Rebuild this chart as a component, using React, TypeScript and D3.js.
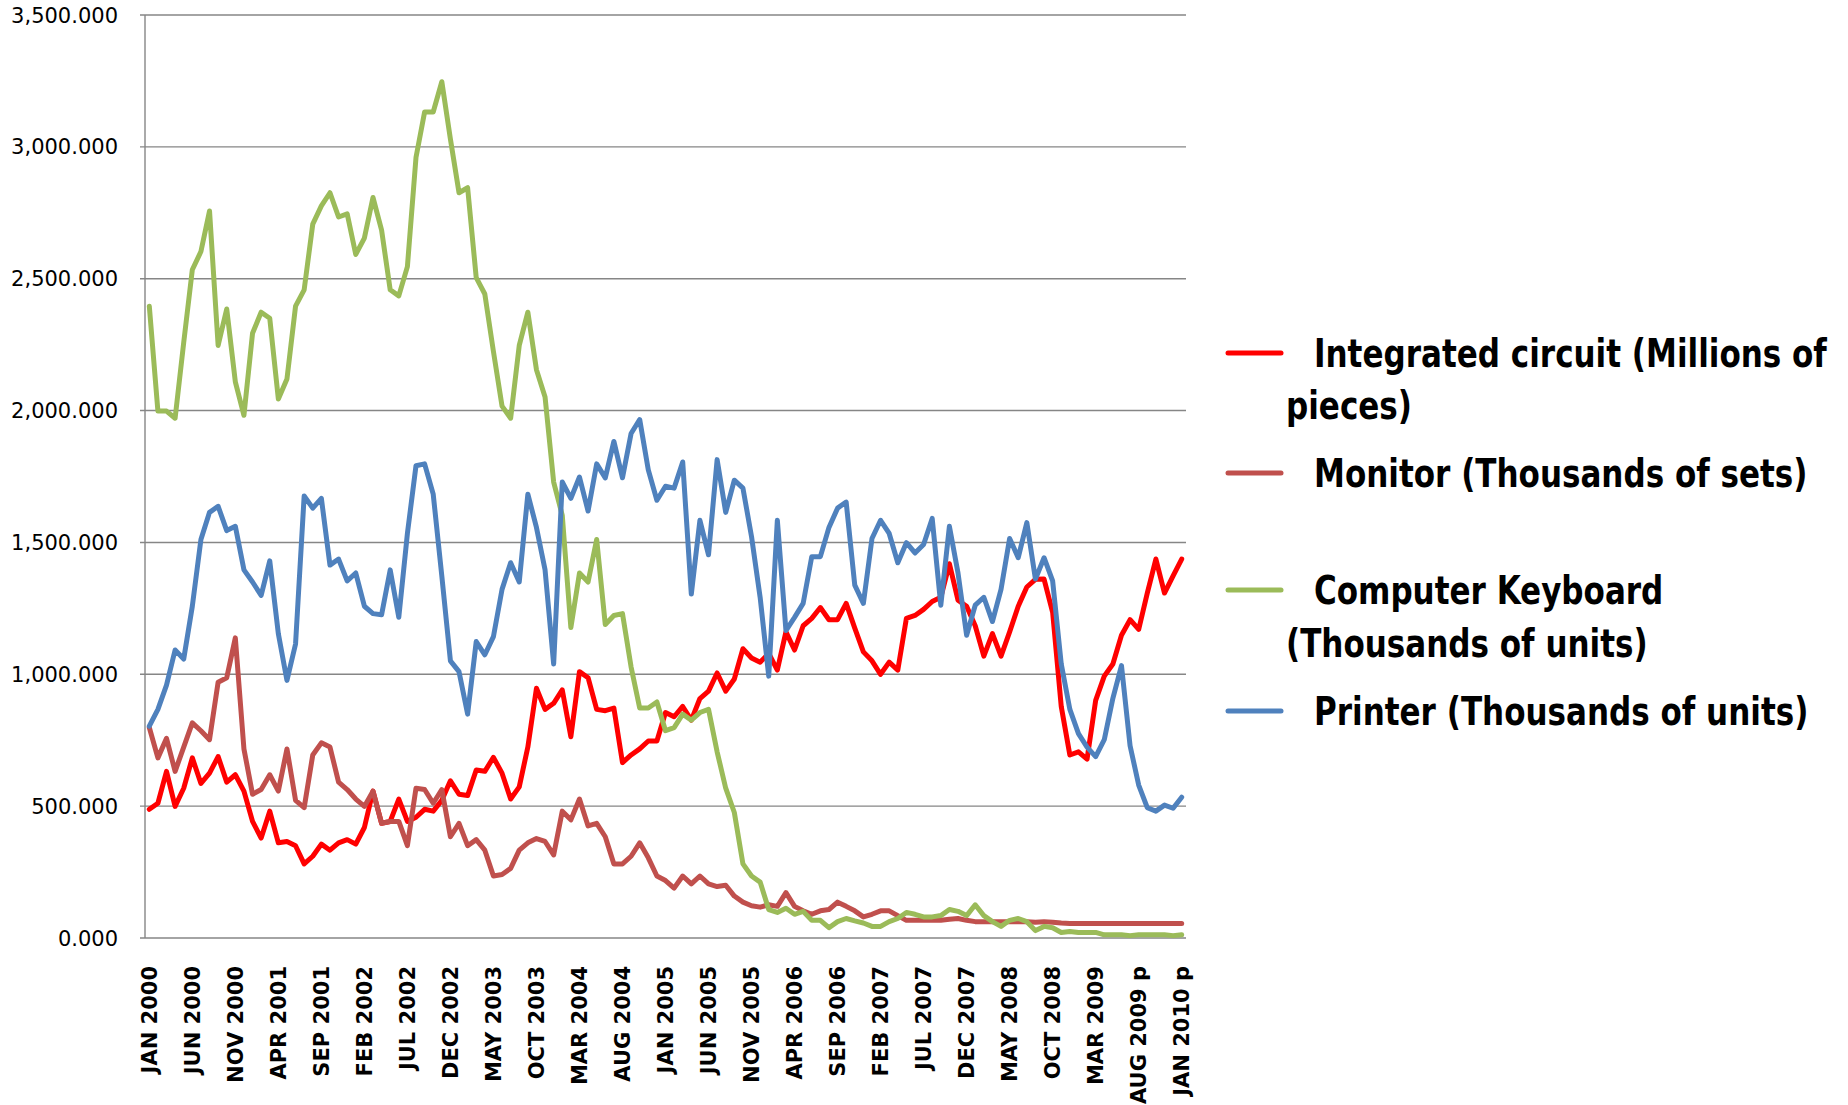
import React from "react";
import * as d3 from "d3";

const tickLabels = [
  "JAN 2000", "JUN 2000", "NOV 2000", "APR 2001", "SEP 2001", "FEB 2002", "JUL 2002",
  "DEC 2002", "MAY 2003", "OCT 2003", "MAR 2004", "AUG 2004", "JAN 2005", "JUN 2005",
  "NOV 2005", "APR 2006", "SEP 2006", "FEB 2007", "JUL 2007", "DEC 2007", "MAY 2008",
  "OCT 2008", "MAR 2009", "AUG 2009 p", "JAN 2010 p",
];

const integratedCircuit = [
  488, 511, 632, 499, 568, 683, 586, 625, 688, 591, 619, 557, 442, 379, 481, 361, 366, 350, 281, 310,
  356, 333, 361, 373, 356, 419, 557, 435, 442, 527, 442, 458, 488, 481, 522, 596, 545, 540, 637, 632,
  685, 625, 527, 573, 724, 947, 867, 890, 941, 763, 1010, 987, 867, 862, 872, 665, 694, 717, 747, 747,
  855, 839, 878, 826, 908, 936, 1005, 936, 982, 1097, 1062, 1046, 1079, 1016, 1161, 1092, 1184, 1212, 1253, 1207,
  1207, 1269, 1175, 1085, 1051, 1000, 1046, 1016, 1212, 1223, 1246, 1276, 1292, 1419, 1281, 1258, 1184, 1069, 1154, 1069,
  1161, 1258, 1331, 1360, 1361, 1235, 878, 694, 706, 678, 901, 993, 1039, 1148, 1207, 1170, 1308, 1437, 1308, 1373,
  1437,
];

const monitor = [
  798, 683, 757, 632, 724, 816, 786, 752, 970, 987, 1138, 717, 545, 563, 619, 557, 717, 522, 494, 694,
  740, 724, 591, 563, 527, 499, 557, 435, 442, 442, 350, 568, 563, 511, 563, 384, 435, 350, 373, 333,
  235, 241, 264, 333, 361, 377, 366, 315, 481, 448, 527, 425, 435, 384, 281, 281, 310, 361, 304, 235,
  218, 189, 235, 205, 235, 205, 195, 200, 159, 136, 122, 117, 126, 120, 172, 120, 103, 90, 103, 108,
  136, 120, 103, 80, 90, 103, 103, 85, 67, 67, 67, 67, 67, 71, 74, 67, 62, 62, 62, 62,
  62, 62, 62, 60, 62, 60, 57, 55, 55, 55, 55, 55, 55, 55, 55, 55, 55, 55, 55, 55,
  55,
];

const keyboard = [
  2396, 1998, 1998, 1971, 2258, 2534, 2603, 2757, 2247, 2385, 2109, 1982, 2293, 2373, 2350, 2044, 2120, 2396, 2458, 2707,
  2776, 2826, 2734, 2746, 2592, 2654, 2808, 2684, 2458, 2435, 2546, 2960, 3132, 3132, 3247, 3029, 2826, 2845, 2504, 2442,
  2224, 2017, 1971, 2247, 2373, 2155, 2051, 1729, 1603, 1177, 1384, 1350, 1511, 1189, 1223, 1230, 1028, 872, 872, 895,
  786, 798, 849, 826, 855, 867, 706, 568, 476, 281, 235, 212, 108, 97, 113, 90, 101, 67, 67, 39,
  62, 74, 65, 57, 44, 44, 62, 74, 97, 90, 80, 80, 85, 108, 101, 85, 126, 85, 62, 44,
  67, 74, 62, 28, 44, 39, 21, 25, 21, 21, 21, 12, 12, 12, 9, 12, 12, 12, 12, 9,
  12,
];

const printer = [
  803, 867, 959, 1092, 1058, 1258, 1511, 1614, 1637, 1545, 1561, 1396, 1350, 1299, 1430, 1154, 977, 1115, 1676, 1630,
  1667, 1414, 1437, 1354, 1384, 1258, 1230, 1226, 1396, 1216, 1534, 1791, 1798, 1683, 1373, 1051, 1010, 849, 1124, 1074,
  1143, 1322, 1423, 1350, 1683, 1557, 1396, 1039, 1729, 1667, 1748, 1619, 1798, 1745, 1883, 1745, 1913, 1966, 1775, 1660,
  1713, 1706, 1805, 1304, 1584, 1453, 1814, 1614, 1736, 1706, 1522, 1292, 993, 1584, 1166, 1216, 1269, 1446, 1446, 1557,
  1630, 1653, 1338, 1269, 1515, 1584, 1534, 1423, 1499, 1460, 1492, 1591, 1262, 1561, 1384, 1148, 1262, 1292, 1200, 1322,
  1515, 1442, 1575, 1361, 1442, 1354, 1039, 867, 775, 724, 688, 752, 909, 1033, 729, 580, 494, 481, 504, 492,
  534,
];

const seriesNames = [
  ["Integrated circuit (Millions of", "pieces)"],
  ["Monitor (Thousands of sets)"],
  ["Computer Keyboard", "(Thousands of units)"],
  ["Printer (Thousands of units)"],
];
const seriesColors = ["#FF0000", "#C0504D", "#9BBB59", "#4F81BD"];
const yTicks = [0, 500, 1000, 1500, 2000, 2500, 3000, 3500];

const W = 1848;
const H = 1105;
const plot = { left: 145, right: 1186, top: 15, bottom: 938 };

export default function App() {
  const allSeries = [integratedCircuit, monitor, keyboard, printer];
  const n = integratedCircuit.length;
  const x = d3
    .scalePoint<number>()
    .domain(d3.range(n))
    .range([plot.left, plot.right])
    .padding(0.5);
  const y = d3.scaleLinear().domain([0, 3500]).range([plot.bottom, plot.top]);
  const line = d3
    .line<number>()
    .x((_, i) => x(i) as number)
    .y((d) => y(d));
  const fmt = d3.format(",.3f");

  const legendRows = [
    { ys: [353, 405] },
    { ys: [473] },
    { ys: [590, 643] },
    { ys: [711] },
  ];

  return (
    <svg
      width={W}
      height={H}
      style={{ position: "absolute", left: 0, top: 0, background: "#fff" }}
    >
      {yTicks.map((t) => (
        <g key={t}>
          <line
            x1={plot.left - 5}
            x2={plot.right}
            y1={y(t)}
            y2={y(t)}
            stroke="#868686"
            strokeWidth={1.4}
          />
          <text
            x={118}
            y={y(t)}
            dy="0.36em"
            textAnchor="end"
            fontFamily="DejaVu Sans, Verdana, sans-serif"
            fontSize={21}
            fill="#000"
          >
            {fmt(t)}
          </text>
        </g>
      ))}
      <line
        x1={plot.left}
        x2={plot.left}
        y1={plot.top}
        y2={plot.bottom}
        stroke="#868686"
        strokeWidth={1.4}
      />
      {allSeries.map((s, k) => (
        <path
          key={k}
          d={line(s) || ""}
          fill="none"
          stroke={seriesColors[k]}
          strokeWidth={5}
          strokeLinejoin="round"
          strokeLinecap="round"
        />
      ))}
      {tickLabels.map((lab, j) => {
        const px = x(j * 5) as number;
        return (
          <text
            key={lab}
            transform={`translate(${px},966) rotate(-90)`}
            dy="0.36em"
            textAnchor="end"
            fontFamily="DejaVu Sans, Verdana, sans-serif"
            fontWeight="bold"
            fontSize={21}
            fill="#000"
          >
            {lab}
          </text>
        );
      })}
      {seriesNames.map((lines, k) => (
        <g key={k}>
          <line
            x1={1228}
            x2={1281}
            y1={legendRows[k].ys[0]}
            y2={legendRows[k].ys[0]}
            stroke={seriesColors[k]}
            strokeWidth={5}
            strokeLinecap="round"
          />
          {lines.map((t, li) => (
            <text
              key={li}
              transform={`translate(${li === 0 ? 1314 : 1286},${legendRows[k].ys[li]}) scale(1,1.15)`}
              dy="0.35em"
              fontFamily="Liberation Sans Narrow, DejaVu Sans Condensed, sans-serif"
              fontWeight="bold"
              fontSize={34.5}
              fill="#000"
            >
              {t}
            </text>
          ))}
        </g>
      ))}
    </svg>
  );
}
